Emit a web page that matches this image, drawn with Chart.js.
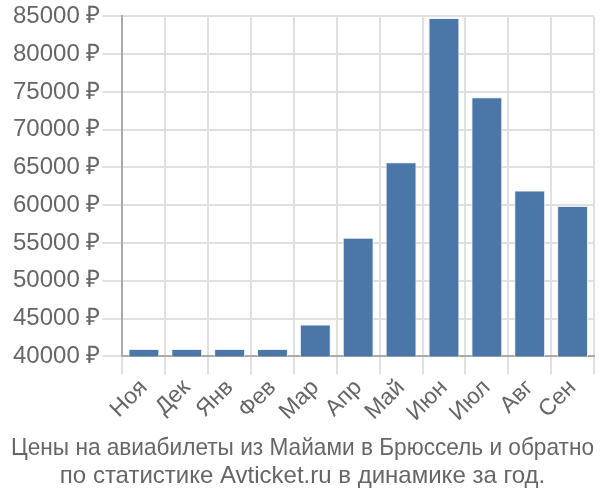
<!DOCTYPE html>
<html>
<head>
<meta charset="utf-8">
<script src="https://cdn.jsdelivr.net/npm/chart.js@4"></script>
<style>
  body { margin: 0; background: #fff; }
  #wrap { width: 600px; height: 500px; }
</style>
</head>
<body>
<div id="wrap"><canvas id="priceChart"></canvas></div>
<script>
// months and prices
const months = ["Ноя", "Дек", "Янв", "Фев", "Мар", "Апр", "Май", "Июн", "Июл", "Авг", "Сен"];
const prices = [40950, 40950, 40950, 40950, 44200, 55700, 65700, 84800, 74300, 61950, 59900];
const yMin = 40000;
const yMax = 85000;
const yStep = 5000;

const ctx = document.getElementById("priceChart").getContext("2d");
new Chart(ctx, {
  type: "bar",
  data: {
    labels: months,
    datasets: [{
      data: prices,
      backgroundColor: "#4a76a8",
      borderColor: "#e8eef6",
      borderWidth: 1,
      categoryPercentage: 0.8,
      barPercentage: 0.9
    }]
  },
  options: {
    responsive: true,
    maintainAspectRatio: false,
    animation: false,
    layout: { padding: { left: 11, right: 6, top: 3, bottom: 0 } },
    plugins: {
      legend: { display: false },
      tooltip: { enabled: false },
      title: {
        display: true,
        position: "bottom",
        text: ["Цены на авиабилеты из Майами в Брюссель и обратно", "по статистике Avticket.ru в динамике за год."],
        color: "#666",
        font: { family: "Liberation Sans", size: 24, weight: "normal", lineHeight: 1.15 },
        padding: { top: 8, bottom: 10 }
      }
    },
    scales: {
      x: {
        grid: { color: "#e0e0e0", lineWidth: 2, tickLength: 18 },
        border: { color: "#aaa", width: 2 },
        ticks: {
          color: "#666",
          font: { family: "Liberation Sans", size: 23 },
          autoSkip: false,
          maxRotation: 45,
          minRotation: 45,
          padding: 0
        }
      },
      y: {
        min: yMin,
        max: yMax,
        grid: { color: "#e0e0e0", lineWidth: 2, tickLength: 20 },
        border: { color: "#aaa", width: 2 },
        ticks: {
          stepSize: yStep,
          color: "#666",
          font: { family: "Liberation Sans", size: 24 },
          padding: 2,
          callback: v => v + " ₽"
        }
      }
    }
  }
});
</script>
</body>
</html>
